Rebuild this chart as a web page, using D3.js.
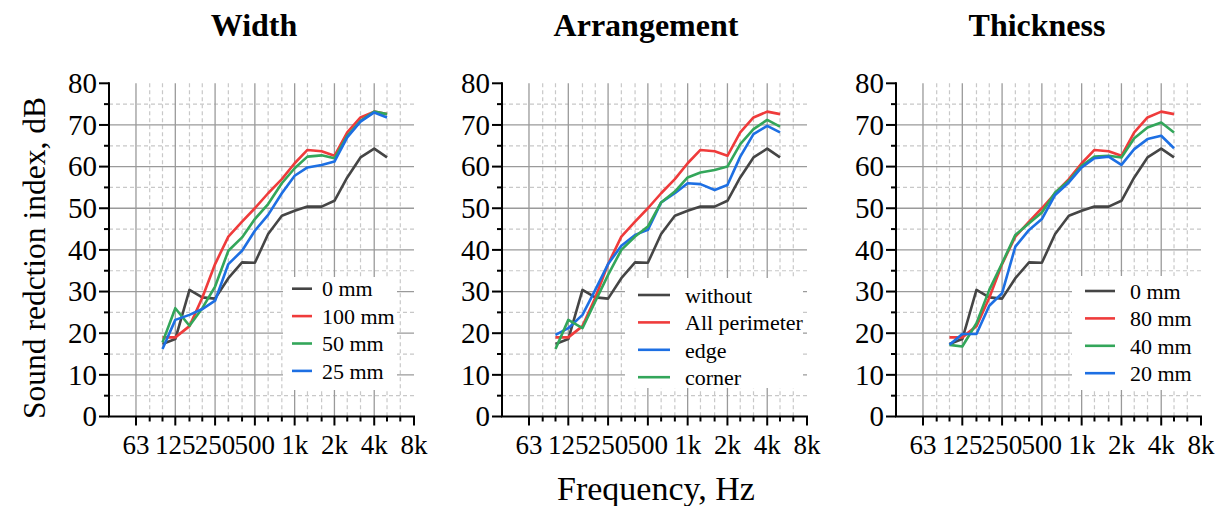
<!DOCTYPE html>
<html>
  <head>
    <meta charset="utf-8" />
    <style>
      body { margin: 0; background: #fff; }
      svg text { font-family: "Liberation Serif", "Times New Roman", serif; fill: #000; }
    </style>
  </head>
  <body>
    <svg id="chart" width="1225" height="506" font-family="Liberation Serif, serif"></svg>

    <script src="https://d3js.org/d3.v7.min.js"></script>
    <script>
      // third-octave band centre frequencies, Hz
      var freqs = [100, 125, 160, 200, 250, 315, 400, 500, 630, 800, 1000, 1250, 1600, 2000, 2500, 3150, 4000, 5000];
      var majorTicks = [63, 125, 250, 500, 1000, 2000, 4000, 8000];
      var majorTickLabels = ["63", "125", "250", "500", "1k", "2k", "4k", "8k"];
      var minorTicks = [80, 100, 160, 200, 315, 400, 630, 800, 1250, 1600, 2500, 3150, 5000, 6300];

      var panelTitles = ["Width", "Arrangement", "Thickness"];

      // reference (no damping) - same in all three panels
      var base = [17.4, 18.6, 30.4, 28.6, 28.3, 33.2, 37.0, 36.9, 43.8, 48.2, 49.4, 50.4, 50.4, 51.8, 57.4, 62.2, 64.3, 62.2];
      var full = [19.0, 19.0, 21.7, 28.5, 36.6, 43.2, 46.8, 50.0, 53.6, 57.0, 60.8, 64.0, 63.7, 62.6, 68.2, 71.8, 73.2, 72.6];

      // Width
      var width50 = [17.8, 26.0, 21.8, 26.0, 31.2, 39.8, 43.0, 47.4, 51.0, 56.0, 59.6, 62.4, 62.7, 62.0, 67.4, 71.0, 73.2, 72.6];
      var width25 = [16.2, 23.2, 24.4, 25.8, 27.8, 36.6, 39.8, 44.6, 48.4, 53.6, 57.8, 59.8, 60.4, 61.2, 67.0, 70.8, 73.0, 71.8];

      // Arrangement
      var edge = [19.6, 21.2, 24.4, 30.4, 36.6, 41.0, 43.6, 44.8, 51.4, 53.6, 56.0, 55.8, 54.4, 55.6, 62.4, 67.8, 69.8, 68.2];
      var corner = [16.2, 23.2, 21.2, 27.6, 34.0, 40.0, 43.2, 45.6, 51.4, 54.0, 57.4, 58.6, 59.2, 60.0, 65.4, 69.0, 71.2, 69.6];

      // Thickness
      var thick40 = [17.2, 16.8, 22.4, 30.4, 36.8, 43.6, 46.4, 49.0, 53.8, 56.6, 60.2, 62.4, 62.6, 62.2, 66.8, 69.4, 70.6, 68.2];
      var thick20 = [17.2, 19.8, 19.8, 26.6, 29.6, 40.8, 44.8, 47.4, 53.2, 56.2, 59.8, 62.0, 62.4, 60.4, 64.2, 66.6, 67.4, 64.4];

      var legendNames = [
        ["0 mm", "100 mm", "50 mm", "25 mm"],
        ["without", "All perimeter", "edge", "corner"],
        ["0 mm", "80 mm", "40 mm", "20 mm"]
      ];
      var panelSeries = [
        [base, full, width50, width25],
        [base, full, edge, corner],
        [base, full, thick40, thick20]
      ];

      var gray = "#454545", red = "#ef3b3b", green = "#33a65a", blue = "#1d6fe3";
      var panelColors = [
        [gray, red, green, blue],
        [gray, red, blue, green],
        [gray, red, green, blue]
      ];

      // layout
      var panelLeft = [109, 502, 896],
        plotW = 305,
        plotTop = 83.3,
        plotBottom = 416.5;
      var titleX = [254, 646, 1037];
      var legendBox = [
        { x: 174, y: 277, w: 114, h: 113, lx0: 183, lx1: 203, tx: 213, row0: 288.7 },
        { x: 123, y: 278, w: 178, h: 110, lx0: 136, lx1: 168, tx: 183, row0: 295 },
        { x: 176, y: 276, w: 130, h: 114, lx0: 189, lx1: 219, tx: 234, row0: 291 }
      ];
      var rowGap = 27.4;

      var svg = d3.select("#chart");

      var x = d3.scaleLog().domain([1000 * Math.pow(2, -14 / 3), 8000]).range([0, plotW]);
      var y = d3.scaleLinear().domain([0, 80]).range([plotBottom, plotTop]);

      var yMajor = d3.range(0, 81, 10);
      var yMinor = d3.range(5, 80, 10);

      panelSeries.forEach(function (series, p) {
        var g = svg.append("g").attr("transform", "translate(" + panelLeft[p] + ",0)");
        var colors = panelColors[p];

        // grid
        g.selectAll(".hminor").data(yMinor).enter().append("line")
          .attr("x1", 0).attr("x2", plotW)
          .attr("y1", y).attr("y2", y)
          .attr("stroke", "#c8c8c8").attr("stroke-width", 1.2).attr("stroke-dasharray", "4,3");
        g.selectAll(".vminor").data(minorTicks).enter().append("line")
          .attr("x1", x).attr("x2", x)
          .attr("y1", plotTop).attr("y2", plotBottom)
          .attr("stroke", "#c8c8c8").attr("stroke-width", 1.2).attr("stroke-dasharray", "4,3");
        g.selectAll(".hmajor").data(yMajor.slice(1, 8)).enter().append("line")
          .attr("x1", 0).attr("x2", plotW)
          .attr("y1", y).attr("y2", y)
          .attr("stroke", "#9a9a9a").attr("stroke-width", 1.3);
        g.selectAll(".vmajor").data(majorTicks.slice(0, 7)).enter().append("line")
          .attr("x1", x).attr("x2", x)
          .attr("y1", plotTop).attr("y2", plotBottom)
          .attr("stroke", "#9a9a9a").attr("stroke-width", 1.3);

        // legend background
        var lb = legendBox[p];
        g.append("rect").attr("x", lb.x).attr("y", lb.y).attr("width", lb.w).attr("height", lb.h).attr("fill", "#fff");

        // lines
        var line = d3.line()
          .x(function (d, i) { return x(freqs[i]); })
          .y(function (d) { return y(d); });
        series.forEach(function (s, k) {
          g.append("path").datum(s)
            .attr("d", line)
            .attr("fill", "none")
            .attr("stroke", colors[k])
            .attr("stroke-width", 2.6)
            .attr("stroke-linejoin", "round");
        });

        // legend entries
        legendNames[p].forEach(function (name, k) {
          var ry = lb.row0 + k * rowGap;
          g.append("line").attr("x1", lb.lx0).attr("x2", lb.lx1).attr("y1", ry).attr("y2", ry)
            .attr("stroke", colors[k]).attr("stroke-width", 2.6);
          g.append("text").attr("x", lb.tx).attr("y", ry).attr("dy", "0.35em")
            .style("font-size", "22px").text(name);
        });

        // axes
        var yAxis = g.append("g");
        yAxis.append("line").attr("x1", 0).attr("x2", 0).attr("y1", plotTop - 1).attr("y2", plotBottom)
          .attr("stroke", "#000").attr("stroke-width", 2);
        yAxis.selectAll(".ytm").data(yMajor).enter().append("line")
          .attr("x1", -10).attr("x2", 0).attr("y1", y).attr("y2", y)
          .attr("stroke", "#000").attr("stroke-width", 2);
        yAxis.selectAll(".ytn").data(yMinor).enter().append("line")
          .attr("x1", -5).attr("x2", 0).attr("y1", y).attr("y2", y)
          .attr("stroke", "#000").attr("stroke-width", 2);
        yAxis.selectAll(".ytl").data(yMajor).enter().append("text")
          .attr("x", -12).attr("y", y).attr("dy", "0.34em")
          .attr("text-anchor", "end").style("font-size", "29px")
          .text(function (d) { return d; });

        var xAxis = g.append("g");
        xAxis.append("line").attr("x1", -1).attr("x2", plotW + 1).attr("y1", plotBottom).attr("y2", plotBottom)
          .attr("stroke", "#000").attr("stroke-width", 2);
        xAxis.selectAll(".xtm").data(majorTicks).enter().append("line")
          .attr("x1", x).attr("x2", x).attr("y1", plotBottom).attr("y2", plotBottom + 9)
          .attr("stroke", "#000").attr("stroke-width", 2);
        xAxis.selectAll(".xtn").data(minorTicks).enter().append("line")
          .attr("x1", x).attr("x2", x).attr("y1", plotBottom).attr("y2", plotBottom + 5)
          .attr("stroke", "#000").attr("stroke-width", 2);
        xAxis.selectAll(".xtl").data(majorTicks).enter().append("text")
          .attr("x", x).attr("y", plotBottom + 37)
          .attr("text-anchor", "middle").style("font-size", "27px")
          .text(function (d, i) { return majorTickLabels[i]; });

        // title
        svg.append("text").attr("x", titleX[p]).attr("y", 36)
          .attr("text-anchor", "middle").style("font-size", "32px").style("font-weight", "bold")
          .text(panelTitles[p]);
      });

      svg.append("text")
        .attr("transform", "translate(45,258) rotate(-90)")
        .attr("text-anchor", "middle").style("font-size", "31.5px")
        .text("Sound redction index, dB");

      svg.append("text")
        .attr("x", 656).attr("y", 500)
        .attr("text-anchor", "middle").style("font-size", "34px")
        .text("Frequency, Hz");
    </script>
  </body>
</html>
